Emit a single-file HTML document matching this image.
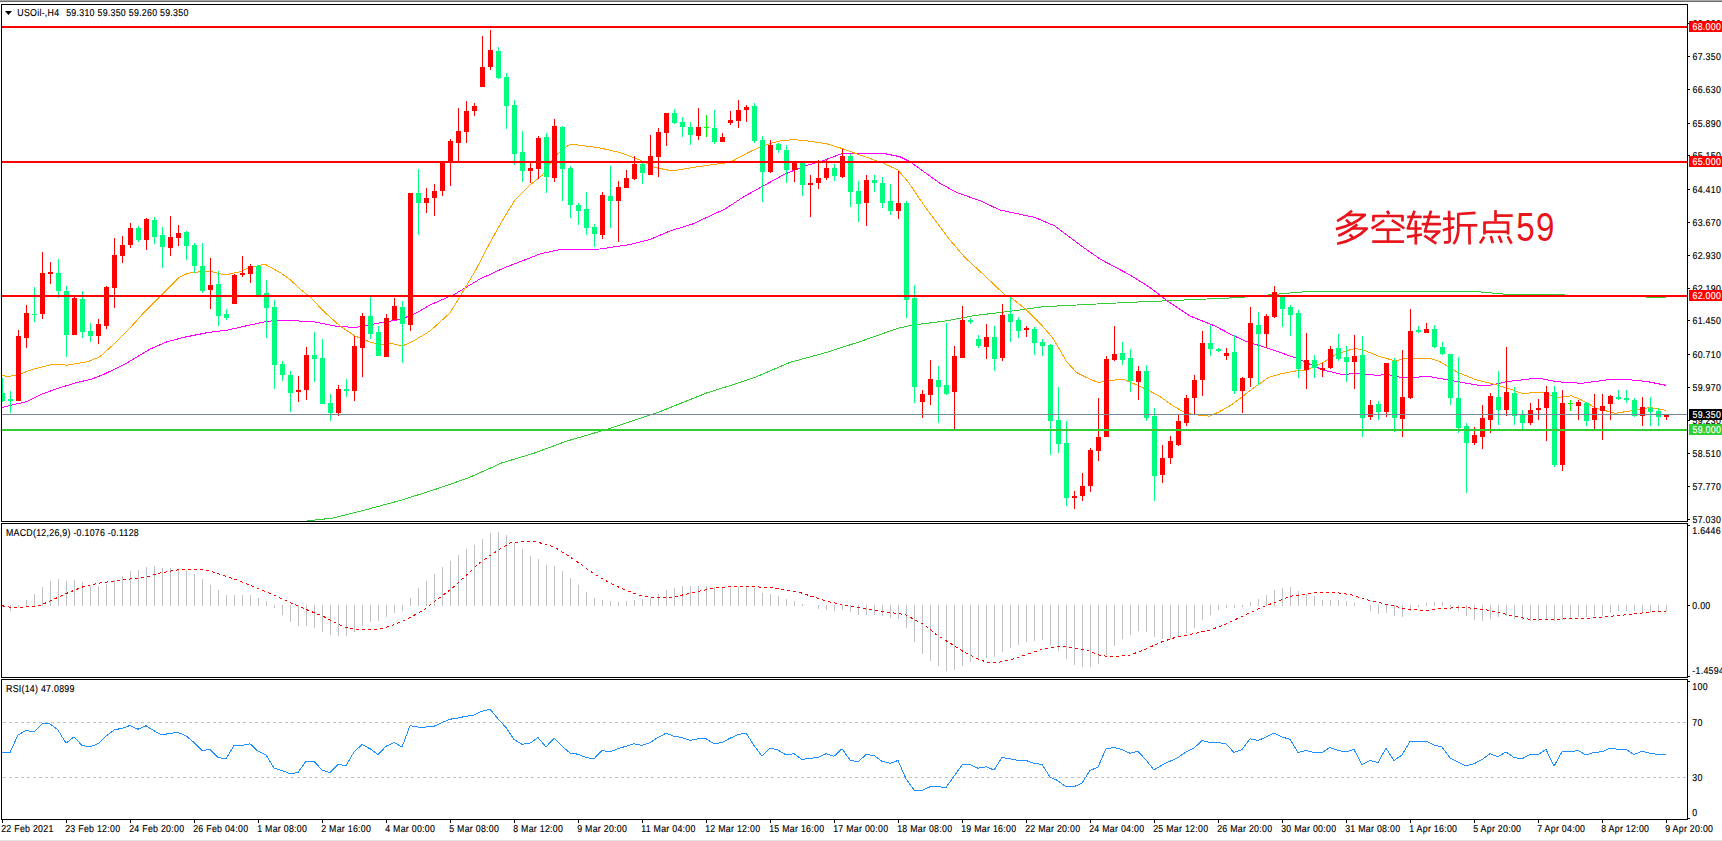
<!DOCTYPE html><html><head><meta charset="utf-8"><style>html,body{margin:0;padding:0;background:#fff;width:1722px;height:841px;overflow:hidden}svg{display:block}text{font-family:"Liberation Sans",sans-serif}</style></head><body>
<svg width="1722" height="841" viewBox="0 0 1722 841">
<rect x="0" y="0" width="1722" height="841" fill="#fff"/>
<rect x="0" y="0" width="1722" height="1" fill="#a9a9a9"/>
<rect x="0" y="1" width="1722" height="1" fill="#696969"/>
<rect x="0" y="840" width="1722" height="1" fill="#e3e3e3"/>
<defs><clipPath id="cm"><rect x="2" y="5" width="1685" height="516"/></clipPath><clipPath id="cd"><rect x="2" y="524" width="1685" height="153"/></clipPath><clipPath id="cr"><rect x="2" y="680" width="1685" height="139"/></clipPath></defs>
<g clip-path="url(#cm)">
<path d="M300.00,522.50 L309.80,520.50 L332.50,518.20 L365.00,510.00 L400.80,500.30 L436.60,489.00 L469.00,477.60 L501.60,463.00 L534.00,453.20 L566.70,441.10 L609.00,428.80 L657.70,412.50 L706.50,393.00 L740.00,382.40 L755.00,377.40 L790.00,362.40 L826.60,352.40 L860.00,341.60 L898.00,328.30 L913.00,325.00 L946.50,320.80 L973.00,315.80 L1020.00,310.00 L1043.00,306.70 L1076.60,305.00 L1126.60,302.50 L1166.60,300.80 L1240.00,297.50 L1290.00,293.00 L1315.00,291.00 L1377.50,291.00 L1470.00,291.00 L1502.50,294.00 L1565.00,295.00 L1615.00,295.50 L1666.00,298.00" fill="none" stroke="#32cd32" stroke-width="1" shape-rendering="crispEdges" />
<path d="M2.00,407.40 L26.60,401.60 L41.60,394.10 L58.30,388.30 L75.00,383.00 L91.60,379.10 L103.20,374.60 L125.00,364.10 L150.00,349.10 L166.50,342.00 L183.00,337.50 L208.00,332.50 L228.00,330.00 L250.00,325.00 L265.00,321.75 L275.00,320.50 L295.00,320.75 L315.00,322.00 L335.00,326.00 L355.00,327.50 L375.00,323.75 L400.00,319.50 L415.00,313.75 L430.00,305.00 L455.00,294.00 L480.00,279.00 L505.00,267.50 L540.00,254.00 L560.00,249.50 L600.00,249.00 L630.00,244.50 L650.00,239.50 L670.00,231.00 L692.50,224.00 L725.00,209.00 L745.00,196.00 L765.00,185.00 L785.00,174.00 L805.00,166.00 L825.00,160.00 L842.50,153.30 L860.00,153.30 L883.00,153.30 L900.00,156.70 L910.00,161.70 L940.00,183.30 L956.50,192.40 L980.00,200.70 L1000.00,210.00 L1035.00,217.50 L1055.00,226.00 L1080.00,245.00 L1100.00,259.00 L1130.00,275.00 L1150.00,287.50 L1167.50,301.00 L1190.00,316.00 L1215.00,326.00 L1230.00,334.00 L1246.60,341.70 L1268.30,348.30 L1296.60,358.30 L1323.00,370.00 L1343.00,374.60 L1356.60,373.30 L1376.60,375.30 L1388.00,374.60 L1401.60,377.50 L1430.00,376.70 L1453.00,380.80 L1476.60,385.00 L1490.00,385.30 L1506.60,381.70 L1538.00,378.00 L1556.60,381.70 L1581.50,383.30 L1606.50,380.00 L1623.00,379.00 L1648.00,381.70 L1666.00,385.30" fill="none" stroke="#ff00ff" stroke-width="1" shape-rendering="crispEdges" />
<path d="M2.00,375.30 L8.30,376.60 L20.00,374.10 L33.30,369.10 L50.00,365.00 L58.30,364.10 L66.60,365.30 L88.20,361.60 L100.00,356.60 L116.50,341.70 L128.20,330.00 L141.70,315.00 L160.00,296.70 L179.00,277.50 L188.00,273.30 L200.00,271.70 L212.00,271.70 L225.00,275.00 L240.00,271.70 L250.00,267.50 L265.00,264.20 L280.00,272.50 L290.00,279.50 L300.00,289.00 L310.00,297.00 L325.00,312.50 L340.00,326.00 L355.00,336.00 L370.00,342.00 L380.00,344.50 L392.50,343.75 L402.50,346.00 L415.00,340.00 L430.00,331.00 L449.80,313.20 L460.00,296.60 L469.80,280.00 L475.00,271.40 L491.40,240.00 L505.00,216.00 L515.00,200.00 L530.00,185.00 L542.50,175.00 L555.00,156.00 L570.00,144.00 L585.00,146.00 L600.00,148.00 L620.00,152.50 L640.00,160.00 L655.00,167.50 L672.50,171.00 L692.50,167.50 L710.00,165.00 L725.00,163.00 L733.00,160.80 L750.00,151.70 L763.00,145.80 L778.00,141.30 L793.00,139.50 L806.50,140.80 L826.50,143.70 L841.50,148.30 L860.00,155.00 L883.00,163.00 L898.00,170.00 L908.00,181.70 L925.00,206.70 L950.00,240.00 L965.00,257.50 L985.00,276.00 L1005.00,295.00 L1010.00,296.70 L1026.60,310.00 L1043.00,326.70 L1053.00,338.30 L1066.60,361.70 L1076.60,372.50 L1086.60,377.50 L1098.00,382.50 L1110.00,380.80 L1116.60,379.70 L1125.00,380.00 L1133.00,383.30 L1148.00,390.00 L1160.00,396.70 L1173.00,405.80 L1184.70,412.50 L1193.00,414.50 L1209.70,416.20 L1219.70,411.50 L1230.00,405.80 L1256.60,385.80 L1268.30,377.50 L1280.00,374.00 L1296.60,370.80 L1306.60,370.00 L1323.00,362.50 L1336.60,354.00 L1355.00,348.30 L1363.30,350.00 L1380.00,356.70 L1395.00,360.80 L1406.60,358.30 L1430.00,358.30 L1440.00,361.70 L1458.00,372.50 L1476.60,380.00 L1496.60,385.00 L1510.00,389.00 L1521.60,393.30 L1543.00,392.50 L1556.60,397.50 L1571.50,395.80 L1581.50,400.00 L1596.50,408.30 L1615.00,413.30 L1631.50,410.80 L1650.00,407.50 L1666.00,410.30" fill="none" stroke="#ffa500" stroke-width="1" shape-rendering="crispEdges" />
<g shape-rendering="crispEdges">
<rect x="2" y="378" width="1" height="24" fill="#00ff7f"/>
<rect x="0" y="393" width="5" height="8" fill="#00ff7f"/>
<rect x="10" y="391" width="1" height="22" fill="#00ff7f"/>
<rect x="8" y="399" width="5" height="2" fill="#00ff7f"/>
<rect x="18" y="330" width="1" height="71" fill="#ff0000"/>
<rect x="16" y="336" width="5" height="65" fill="#ff0000"/>
<rect x="26" y="305" width="1" height="43" fill="#ff0000"/>
<rect x="24" y="313" width="5" height="25" fill="#ff0000"/>
<rect x="34" y="287" width="1" height="35" fill="#00ff7f"/>
<rect x="32" y="314" width="5" height="1" fill="#00ff7f"/>
<rect x="42" y="252" width="1" height="67" fill="#ff0000"/>
<rect x="40" y="273" width="5" height="41" fill="#ff0000"/>
<rect x="50" y="262" width="1" height="22" fill="#ff0000"/>
<rect x="48" y="272" width="5" height="2" fill="#ff0000"/>
<rect x="58" y="259" width="1" height="39" fill="#00ff7f"/>
<rect x="56" y="273" width="5" height="18" fill="#00ff7f"/>
<rect x="66" y="286" width="1" height="71" fill="#00ff7f"/>
<rect x="64" y="291" width="5" height="44" fill="#00ff7f"/>
<rect x="74" y="296" width="1" height="39" fill="#ff0000"/>
<rect x="72" y="298" width="5" height="37" fill="#ff0000"/>
<rect x="82" y="291" width="1" height="47" fill="#00ff7f"/>
<rect x="80" y="299" width="5" height="33" fill="#00ff7f"/>
<rect x="90" y="323" width="1" height="19" fill="#00ff7f"/>
<rect x="88" y="331" width="5" height="5" fill="#00ff7f"/>
<rect x="98" y="319" width="1" height="25" fill="#ff0000"/>
<rect x="96" y="324" width="5" height="12" fill="#ff0000"/>
<rect x="106" y="286" width="1" height="43" fill="#ff0000"/>
<rect x="104" y="287" width="5" height="39" fill="#ff0000"/>
<rect x="114" y="238" width="1" height="70" fill="#ff0000"/>
<rect x="112" y="255" width="5" height="33" fill="#ff0000"/>
<rect x="122" y="236" width="1" height="27" fill="#ff0000"/>
<rect x="120" y="245" width="5" height="11" fill="#ff0000"/>
<rect x="130" y="223" width="1" height="25" fill="#ff0000"/>
<rect x="128" y="228" width="5" height="17" fill="#ff0000"/>
<rect x="138" y="226" width="1" height="16" fill="#00ff7f"/>
<rect x="136" y="228" width="5" height="12" fill="#00ff7f"/>
<rect x="146" y="218" width="1" height="32" fill="#ff0000"/>
<rect x="144" y="219" width="5" height="21" fill="#ff0000"/>
<rect x="154" y="217" width="1" height="27" fill="#00ff7f"/>
<rect x="152" y="220" width="5" height="17" fill="#00ff7f"/>
<rect x="162" y="227" width="1" height="41" fill="#00ff7f"/>
<rect x="160" y="235" width="5" height="12" fill="#00ff7f"/>
<rect x="170" y="216" width="1" height="40" fill="#ff0000"/>
<rect x="168" y="237" width="5" height="11" fill="#ff0000"/>
<rect x="178" y="225" width="1" height="21" fill="#ff0000"/>
<rect x="176" y="233" width="5" height="5" fill="#ff0000"/>
<rect x="186" y="231" width="1" height="29" fill="#00ff7f"/>
<rect x="184" y="232" width="5" height="14" fill="#00ff7f"/>
<rect x="194" y="243" width="1" height="30" fill="#00ff7f"/>
<rect x="192" y="245" width="5" height="21" fill="#00ff7f"/>
<rect x="202" y="243" width="1" height="50" fill="#00ff7f"/>
<rect x="200" y="266" width="5" height="25" fill="#00ff7f"/>
<rect x="210" y="258" width="1" height="51" fill="#ff0000"/>
<rect x="208" y="285" width="5" height="5" fill="#ff0000"/>
<rect x="218" y="271" width="1" height="55" fill="#00ff7f"/>
<rect x="216" y="284" width="5" height="32" fill="#00ff7f"/>
<rect x="226" y="309" width="1" height="11" fill="#00ff7f"/>
<rect x="224" y="314" width="5" height="4" fill="#00ff7f"/>
<rect x="234" y="274" width="1" height="30" fill="#ff0000"/>
<rect x="232" y="275" width="5" height="29" fill="#ff0000"/>
<rect x="242" y="256" width="1" height="21" fill="#ff0000"/>
<rect x="240" y="273" width="5" height="2" fill="#ff0000"/>
<rect x="250" y="264" width="1" height="19" fill="#ff0000"/>
<rect x="248" y="266" width="5" height="8" fill="#ff0000"/>
<rect x="258" y="265" width="1" height="30" fill="#00ff7f"/>
<rect x="256" y="266" width="5" height="29" fill="#00ff7f"/>
<rect x="266" y="280" width="1" height="58" fill="#00ff7f"/>
<rect x="264" y="293" width="5" height="15" fill="#00ff7f"/>
<rect x="274" y="300" width="1" height="89" fill="#00ff7f"/>
<rect x="272" y="307" width="5" height="58" fill="#00ff7f"/>
<rect x="282" y="361" width="1" height="20" fill="#00ff7f"/>
<rect x="280" y="364" width="5" height="11" fill="#00ff7f"/>
<rect x="290" y="371" width="1" height="41" fill="#00ff7f"/>
<rect x="288" y="375" width="5" height="18" fill="#00ff7f"/>
<rect x="298" y="376" width="1" height="26" fill="#ff0000"/>
<rect x="296" y="390" width="5" height="2" fill="#ff0000"/>
<rect x="306" y="347" width="1" height="53" fill="#ff0000"/>
<rect x="304" y="355" width="5" height="35" fill="#ff0000"/>
<rect x="314" y="332" width="1" height="50" fill="#00ff7f"/>
<rect x="312" y="355" width="5" height="4" fill="#00ff7f"/>
<rect x="322" y="339" width="1" height="65" fill="#00ff7f"/>
<rect x="320" y="358" width="5" height="46" fill="#00ff7f"/>
<rect x="330" y="394" width="1" height="27" fill="#00ff7f"/>
<rect x="328" y="403" width="5" height="10" fill="#00ff7f"/>
<rect x="338" y="385" width="1" height="31" fill="#ff0000"/>
<rect x="336" y="389" width="5" height="24" fill="#ff0000"/>
<rect x="346" y="379" width="1" height="18" fill="#00ff7f"/>
<rect x="344" y="389" width="5" height="2" fill="#00ff7f"/>
<rect x="354" y="336" width="1" height="65" fill="#ff0000"/>
<rect x="352" y="346" width="5" height="45" fill="#ff0000"/>
<rect x="362" y="313" width="1" height="64" fill="#ff0000"/>
<rect x="360" y="316" width="5" height="32" fill="#ff0000"/>
<rect x="370" y="296" width="1" height="43" fill="#00ff7f"/>
<rect x="368" y="316" width="5" height="18" fill="#00ff7f"/>
<rect x="378" y="326" width="1" height="30" fill="#00ff7f"/>
<rect x="376" y="332" width="5" height="24" fill="#00ff7f"/>
<rect x="386" y="314" width="1" height="43" fill="#ff0000"/>
<rect x="384" y="318" width="5" height="39" fill="#ff0000"/>
<rect x="394" y="298" width="1" height="22" fill="#ff0000"/>
<rect x="392" y="306" width="5" height="14" fill="#ff0000"/>
<rect x="402" y="301" width="1" height="62" fill="#00ff7f"/>
<rect x="400" y="307" width="5" height="17" fill="#00ff7f"/>
<rect x="410" y="193" width="1" height="138" fill="#ff0000"/>
<rect x="408" y="193" width="5" height="132" fill="#ff0000"/>
<rect x="418" y="169" width="1" height="66" fill="#00ff7f"/>
<rect x="416" y="193" width="5" height="10" fill="#00ff7f"/>
<rect x="426" y="188" width="1" height="25" fill="#ff0000"/>
<rect x="424" y="198" width="5" height="5" fill="#ff0000"/>
<rect x="434" y="184" width="1" height="32" fill="#ff0000"/>
<rect x="432" y="191" width="5" height="7" fill="#ff0000"/>
<rect x="442" y="161" width="1" height="35" fill="#ff0000"/>
<rect x="440" y="163" width="5" height="28" fill="#ff0000"/>
<rect x="450" y="139" width="1" height="47" fill="#ff0000"/>
<rect x="448" y="141" width="5" height="22" fill="#ff0000"/>
<rect x="458" y="108" width="1" height="53" fill="#ff0000"/>
<rect x="456" y="131" width="5" height="12" fill="#ff0000"/>
<rect x="466" y="101" width="1" height="42" fill="#ff0000"/>
<rect x="464" y="111" width="5" height="21" fill="#ff0000"/>
<rect x="474" y="103" width="1" height="13" fill="#ff0000"/>
<rect x="472" y="106" width="5" height="5" fill="#ff0000"/>
<rect x="482" y="36" width="1" height="51" fill="#ff0000"/>
<rect x="480" y="67" width="5" height="20" fill="#ff0000"/>
<rect x="490" y="30" width="1" height="40" fill="#ff0000"/>
<rect x="488" y="50" width="5" height="17" fill="#ff0000"/>
<rect x="498" y="47" width="1" height="32" fill="#00ff7f"/>
<rect x="496" y="51" width="5" height="27" fill="#00ff7f"/>
<rect x="506" y="73" width="1" height="56" fill="#00ff7f"/>
<rect x="504" y="77" width="5" height="29" fill="#00ff7f"/>
<rect x="514" y="100" width="1" height="65" fill="#00ff7f"/>
<rect x="512" y="105" width="5" height="49" fill="#00ff7f"/>
<rect x="522" y="131" width="1" height="51" fill="#00ff7f"/>
<rect x="520" y="152" width="5" height="19" fill="#00ff7f"/>
<rect x="530" y="161" width="1" height="22" fill="#ff0000"/>
<rect x="528" y="168" width="5" height="3" fill="#ff0000"/>
<rect x="538" y="136" width="1" height="43" fill="#ff0000"/>
<rect x="536" y="138" width="5" height="31" fill="#ff0000"/>
<rect x="546" y="133" width="1" height="60" fill="#00ff7f"/>
<rect x="544" y="137" width="5" height="40" fill="#00ff7f"/>
<rect x="554" y="119" width="1" height="63" fill="#ff0000"/>
<rect x="552" y="126" width="5" height="52" fill="#ff0000"/>
<rect x="562" y="126" width="1" height="75" fill="#00ff7f"/>
<rect x="560" y="127" width="5" height="42" fill="#00ff7f"/>
<rect x="570" y="166" width="1" height="52" fill="#00ff7f"/>
<rect x="568" y="168" width="5" height="37" fill="#00ff7f"/>
<rect x="578" y="203" width="1" height="22" fill="#00ff7f"/>
<rect x="576" y="205" width="5" height="6" fill="#00ff7f"/>
<rect x="586" y="192" width="1" height="43" fill="#00ff7f"/>
<rect x="584" y="209" width="5" height="19" fill="#00ff7f"/>
<rect x="594" y="224" width="1" height="23" fill="#00ff7f"/>
<rect x="592" y="227" width="5" height="7" fill="#00ff7f"/>
<rect x="602" y="192" width="1" height="47" fill="#ff0000"/>
<rect x="600" y="195" width="5" height="40" fill="#ff0000"/>
<rect x="610" y="166" width="1" height="62" fill="#00ff7f"/>
<rect x="608" y="196" width="5" height="5" fill="#00ff7f"/>
<rect x="618" y="181" width="1" height="61" fill="#ff0000"/>
<rect x="616" y="187" width="5" height="14" fill="#ff0000"/>
<rect x="626" y="170" width="1" height="18" fill="#ff0000"/>
<rect x="624" y="178" width="5" height="10" fill="#ff0000"/>
<rect x="634" y="156" width="1" height="24" fill="#ff0000"/>
<rect x="632" y="164" width="5" height="15" fill="#ff0000"/>
<rect x="642" y="161" width="1" height="23" fill="#00ff7f"/>
<rect x="640" y="164" width="5" height="9" fill="#00ff7f"/>
<rect x="650" y="135" width="1" height="40" fill="#ff0000"/>
<rect x="648" y="156" width="5" height="19" fill="#ff0000"/>
<rect x="658" y="128" width="1" height="49" fill="#ff0000"/>
<rect x="656" y="132" width="5" height="25" fill="#ff0000"/>
<rect x="666" y="113" width="1" height="33" fill="#ff0000"/>
<rect x="664" y="113" width="5" height="20" fill="#ff0000"/>
<rect x="674" y="109" width="1" height="15" fill="#00ff7f"/>
<rect x="672" y="113" width="5" height="10" fill="#00ff7f"/>
<rect x="682" y="117" width="1" height="20" fill="#00ff7f"/>
<rect x="680" y="122" width="5" height="5" fill="#00ff7f"/>
<rect x="690" y="122" width="1" height="23" fill="#00ff7f"/>
<rect x="688" y="127" width="5" height="8" fill="#00ff7f"/>
<rect x="698" y="108" width="1" height="32" fill="#ff0000"/>
<rect x="696" y="127" width="5" height="9" fill="#ff0000"/>
<rect x="706" y="115" width="1" height="22" fill="#00ff00"/>
<rect x="704" y="127" width="5" height="1" fill="#00ff00"/>
<rect x="714" y="110" width="1" height="34" fill="#00ff7f"/>
<rect x="712" y="128" width="5" height="14" fill="#00ff7f"/>
<rect x="722" y="133" width="1" height="9" fill="#ff0000"/>
<rect x="720" y="137" width="5" height="5" fill="#ff0000"/>
<rect x="730" y="111" width="1" height="14" fill="#ff0000"/>
<rect x="728" y="120" width="5" height="3" fill="#ff0000"/>
<rect x="738" y="100" width="1" height="28" fill="#ff0000"/>
<rect x="736" y="110" width="5" height="11" fill="#ff0000"/>
<rect x="746" y="105" width="1" height="17" fill="#ff0000"/>
<rect x="744" y="107" width="5" height="3" fill="#ff0000"/>
<rect x="754" y="103" width="1" height="40" fill="#00ff7f"/>
<rect x="752" y="106" width="5" height="35" fill="#00ff7f"/>
<rect x="762" y="136" width="1" height="66" fill="#00ff7f"/>
<rect x="760" y="140" width="5" height="32" fill="#00ff7f"/>
<rect x="770" y="140" width="1" height="33" fill="#ff0000"/>
<rect x="768" y="145" width="5" height="27" fill="#ff0000"/>
<rect x="778" y="143" width="1" height="10" fill="#00ff7f"/>
<rect x="776" y="144" width="5" height="6" fill="#00ff7f"/>
<rect x="786" y="145" width="1" height="38" fill="#00ff7f"/>
<rect x="784" y="150" width="5" height="20" fill="#00ff7f"/>
<rect x="794" y="161" width="1" height="21" fill="#ff0000"/>
<rect x="792" y="161" width="5" height="9" fill="#ff0000"/>
<rect x="802" y="161" width="1" height="35" fill="#00ff7f"/>
<rect x="800" y="163" width="5" height="22" fill="#00ff7f"/>
<rect x="810" y="175" width="1" height="42" fill="#ff0000"/>
<rect x="808" y="183" width="5" height="2" fill="#ff0000"/>
<rect x="818" y="160" width="1" height="29" fill="#ff0000"/>
<rect x="816" y="178" width="5" height="5" fill="#ff0000"/>
<rect x="826" y="160" width="1" height="20" fill="#ff0000"/>
<rect x="824" y="168" width="5" height="10" fill="#ff0000"/>
<rect x="834" y="164" width="1" height="17" fill="#00ff7f"/>
<rect x="832" y="168" width="5" height="8" fill="#00ff7f"/>
<rect x="842" y="149" width="1" height="29" fill="#ff0000"/>
<rect x="840" y="156" width="5" height="21" fill="#ff0000"/>
<rect x="850" y="154" width="1" height="53" fill="#00ff7f"/>
<rect x="848" y="156" width="5" height="36" fill="#00ff7f"/>
<rect x="858" y="181" width="1" height="41" fill="#00ff7f"/>
<rect x="856" y="191" width="5" height="13" fill="#00ff7f"/>
<rect x="866" y="175" width="1" height="51" fill="#ff0000"/>
<rect x="864" y="180" width="5" height="23" fill="#ff0000"/>
<rect x="874" y="175" width="1" height="17" fill="#00ff7f"/>
<rect x="872" y="180" width="5" height="3" fill="#00ff7f"/>
<rect x="882" y="177" width="1" height="31" fill="#00ff7f"/>
<rect x="880" y="183" width="5" height="20" fill="#00ff7f"/>
<rect x="890" y="184" width="1" height="31" fill="#00ff7f"/>
<rect x="888" y="201" width="5" height="10" fill="#00ff7f"/>
<rect x="898" y="171" width="1" height="48" fill="#ff0000"/>
<rect x="896" y="203" width="5" height="8" fill="#ff0000"/>
<rect x="906" y="201" width="1" height="117" fill="#00ff7f"/>
<rect x="904" y="203" width="5" height="97" fill="#00ff7f"/>
<rect x="914" y="285" width="1" height="118" fill="#00ff7f"/>
<rect x="912" y="298" width="5" height="89" fill="#00ff7f"/>
<rect x="922" y="390" width="1" height="28" fill="#ff0000"/>
<rect x="920" y="394" width="5" height="8" fill="#ff0000"/>
<rect x="930" y="360" width="1" height="45" fill="#ff0000"/>
<rect x="928" y="379" width="5" height="16" fill="#ff0000"/>
<rect x="938" y="366" width="1" height="57" fill="#00ff7f"/>
<rect x="936" y="380" width="5" height="7" fill="#00ff7f"/>
<rect x="946" y="323" width="1" height="72" fill="#00ff7f"/>
<rect x="944" y="385" width="5" height="9" fill="#00ff7f"/>
<rect x="954" y="346" width="1" height="84" fill="#ff0000"/>
<rect x="952" y="356" width="5" height="36" fill="#ff0000"/>
<rect x="962" y="306" width="1" height="52" fill="#ff0000"/>
<rect x="960" y="320" width="5" height="38" fill="#ff0000"/>
<rect x="970" y="318" width="1" height="6" fill="#00ff7f"/>
<rect x="968" y="320" width="5" height="2" fill="#00ff7f"/>
<rect x="978" y="335" width="1" height="13" fill="#00ff7f"/>
<rect x="976" y="339" width="5" height="7" fill="#00ff7f"/>
<rect x="986" y="324" width="1" height="35" fill="#ff0000"/>
<rect x="984" y="337" width="5" height="10" fill="#ff0000"/>
<rect x="994" y="326" width="1" height="45" fill="#00ff7f"/>
<rect x="992" y="337" width="5" height="22" fill="#00ff7f"/>
<rect x="1002" y="304" width="1" height="57" fill="#ff0000"/>
<rect x="1000" y="315" width="5" height="43" fill="#ff0000"/>
<rect x="1010" y="296" width="1" height="46" fill="#00ff7f"/>
<rect x="1008" y="314" width="5" height="8" fill="#00ff7f"/>
<rect x="1018" y="317" width="1" height="21" fill="#00ff7f"/>
<rect x="1016" y="320" width="5" height="11" fill="#00ff7f"/>
<rect x="1026" y="326" width="1" height="11" fill="#ff0000"/>
<rect x="1024" y="328" width="5" height="2" fill="#ff0000"/>
<rect x="1034" y="327" width="1" height="28" fill="#00ff7f"/>
<rect x="1032" y="329" width="5" height="14" fill="#00ff7f"/>
<rect x="1042" y="339" width="1" height="17" fill="#00ff7f"/>
<rect x="1040" y="342" width="5" height="4" fill="#00ff7f"/>
<rect x="1050" y="344" width="1" height="111" fill="#00ff7f"/>
<rect x="1048" y="345" width="5" height="76" fill="#00ff7f"/>
<rect x="1058" y="387" width="1" height="66" fill="#00ff7f"/>
<rect x="1056" y="420" width="5" height="24" fill="#00ff7f"/>
<rect x="1066" y="421" width="1" height="85" fill="#00ff7f"/>
<rect x="1064" y="443" width="5" height="55" fill="#00ff7f"/>
<rect x="1074" y="491" width="1" height="18" fill="#ff0000"/>
<rect x="1072" y="496" width="5" height="2" fill="#ff0000"/>
<rect x="1082" y="473" width="1" height="28" fill="#ff0000"/>
<rect x="1080" y="486" width="5" height="10" fill="#ff0000"/>
<rect x="1090" y="448" width="1" height="44" fill="#ff0000"/>
<rect x="1088" y="450" width="5" height="36" fill="#ff0000"/>
<rect x="1098" y="398" width="1" height="63" fill="#ff0000"/>
<rect x="1096" y="437" width="5" height="14" fill="#ff0000"/>
<rect x="1106" y="356" width="1" height="81" fill="#ff0000"/>
<rect x="1104" y="359" width="5" height="78" fill="#ff0000"/>
<rect x="1114" y="326" width="1" height="35" fill="#ff0000"/>
<rect x="1112" y="354" width="5" height="6" fill="#ff0000"/>
<rect x="1122" y="342" width="1" height="23" fill="#00ff7f"/>
<rect x="1120" y="353" width="5" height="7" fill="#00ff7f"/>
<rect x="1130" y="349" width="1" height="43" fill="#00ff7f"/>
<rect x="1128" y="358" width="5" height="23" fill="#00ff7f"/>
<rect x="1138" y="366" width="1" height="34" fill="#ff0000"/>
<rect x="1136" y="371" width="5" height="11" fill="#ff0000"/>
<rect x="1146" y="365" width="1" height="56" fill="#00ff7f"/>
<rect x="1144" y="371" width="5" height="47" fill="#00ff7f"/>
<rect x="1154" y="408" width="1" height="93" fill="#00ff7f"/>
<rect x="1152" y="416" width="5" height="60" fill="#00ff7f"/>
<rect x="1162" y="445" width="1" height="38" fill="#ff0000"/>
<rect x="1160" y="458" width="5" height="17" fill="#ff0000"/>
<rect x="1170" y="436" width="1" height="28" fill="#ff0000"/>
<rect x="1168" y="441" width="5" height="17" fill="#ff0000"/>
<rect x="1178" y="414" width="1" height="32" fill="#ff0000"/>
<rect x="1176" y="421" width="5" height="24" fill="#ff0000"/>
<rect x="1186" y="395" width="1" height="31" fill="#ff0000"/>
<rect x="1184" y="398" width="5" height="25" fill="#ff0000"/>
<rect x="1194" y="375" width="1" height="40" fill="#ff0000"/>
<rect x="1192" y="380" width="5" height="18" fill="#ff0000"/>
<rect x="1202" y="331" width="1" height="65" fill="#ff0000"/>
<rect x="1200" y="343" width="5" height="37" fill="#ff0000"/>
<rect x="1210" y="325" width="1" height="31" fill="#00ff7f"/>
<rect x="1208" y="343" width="5" height="6" fill="#00ff7f"/>
<rect x="1218" y="348" width="1" height="4" fill="#00ff7f"/>
<rect x="1216" y="349" width="5" height="2" fill="#00ff7f"/>
<rect x="1226" y="348" width="1" height="12" fill="#ff0000"/>
<rect x="1224" y="353" width="5" height="3" fill="#ff0000"/>
<rect x="1234" y="335" width="1" height="59" fill="#00ff7f"/>
<rect x="1232" y="352" width="5" height="39" fill="#00ff7f"/>
<rect x="1242" y="377" width="1" height="36" fill="#ff0000"/>
<rect x="1240" y="378" width="5" height="13" fill="#ff0000"/>
<rect x="1250" y="307" width="1" height="80" fill="#ff0000"/>
<rect x="1248" y="323" width="5" height="55" fill="#ff0000"/>
<rect x="1258" y="312" width="1" height="73" fill="#00ff7f"/>
<rect x="1256" y="325" width="5" height="9" fill="#00ff7f"/>
<rect x="1266" y="314" width="1" height="34" fill="#ff0000"/>
<rect x="1264" y="316" width="5" height="18" fill="#ff0000"/>
<rect x="1274" y="286" width="1" height="32" fill="#ff0000"/>
<rect x="1272" y="292" width="5" height="25" fill="#ff0000"/>
<rect x="1282" y="295" width="1" height="32" fill="#00ff7f"/>
<rect x="1280" y="296" width="5" height="13" fill="#00ff7f"/>
<rect x="1290" y="305" width="1" height="31" fill="#00ff7f"/>
<rect x="1288" y="307" width="5" height="8" fill="#00ff7f"/>
<rect x="1298" y="310" width="1" height="68" fill="#00ff7f"/>
<rect x="1296" y="313" width="5" height="56" fill="#00ff7f"/>
<rect x="1306" y="333" width="1" height="56" fill="#ff0000"/>
<rect x="1304" y="360" width="5" height="10" fill="#ff0000"/>
<rect x="1314" y="355" width="1" height="23" fill="#00ff7f"/>
<rect x="1312" y="360" width="5" height="8" fill="#00ff7f"/>
<rect x="1322" y="363" width="1" height="14" fill="#ff0000"/>
<rect x="1320" y="368" width="5" height="2" fill="#ff0000"/>
<rect x="1330" y="346" width="1" height="23" fill="#ff0000"/>
<rect x="1328" y="349" width="5" height="19" fill="#ff0000"/>
<rect x="1338" y="334" width="1" height="27" fill="#00ff7f"/>
<rect x="1336" y="348" width="5" height="11" fill="#00ff7f"/>
<rect x="1346" y="346" width="1" height="36" fill="#00ff7f"/>
<rect x="1344" y="357" width="5" height="5" fill="#00ff7f"/>
<rect x="1354" y="335" width="1" height="54" fill="#ff0000"/>
<rect x="1352" y="356" width="5" height="6" fill="#ff0000"/>
<rect x="1362" y="336" width="1" height="101" fill="#00ff7f"/>
<rect x="1360" y="355" width="5" height="63" fill="#00ff7f"/>
<rect x="1370" y="400" width="1" height="20" fill="#ff0000"/>
<rect x="1368" y="405" width="5" height="12" fill="#ff0000"/>
<rect x="1378" y="401" width="1" height="19" fill="#00ff7f"/>
<rect x="1376" y="404" width="5" height="8" fill="#00ff7f"/>
<rect x="1386" y="363" width="1" height="54" fill="#ff0000"/>
<rect x="1384" y="363" width="5" height="49" fill="#ff0000"/>
<rect x="1394" y="358" width="1" height="74" fill="#00ff7f"/>
<rect x="1392" y="361" width="5" height="57" fill="#00ff7f"/>
<rect x="1402" y="350" width="1" height="87" fill="#ff0000"/>
<rect x="1400" y="397" width="5" height="22" fill="#ff0000"/>
<rect x="1410" y="309" width="1" height="90" fill="#ff0000"/>
<rect x="1408" y="331" width="5" height="67" fill="#ff0000"/>
<rect x="1418" y="326" width="1" height="7" fill="#00ff7f"/>
<rect x="1416" y="330" width="5" height="2" fill="#00ff7f"/>
<rect x="1426" y="323" width="1" height="10" fill="#ff0000"/>
<rect x="1424" y="329" width="5" height="4" fill="#ff0000"/>
<rect x="1434" y="325" width="1" height="23" fill="#00ff7f"/>
<rect x="1432" y="329" width="5" height="18" fill="#00ff7f"/>
<rect x="1442" y="342" width="1" height="13" fill="#00ff7f"/>
<rect x="1440" y="347" width="5" height="7" fill="#00ff7f"/>
<rect x="1450" y="354" width="1" height="51" fill="#00ff7f"/>
<rect x="1448" y="354" width="5" height="44" fill="#00ff7f"/>
<rect x="1458" y="357" width="1" height="76" fill="#00ff7f"/>
<rect x="1456" y="398" width="5" height="30" fill="#00ff7f"/>
<rect x="1466" y="423" width="1" height="70" fill="#00ff7f"/>
<rect x="1464" y="426" width="5" height="17" fill="#00ff7f"/>
<rect x="1474" y="427" width="1" height="18" fill="#ff0000"/>
<rect x="1472" y="435" width="5" height="8" fill="#ff0000"/>
<rect x="1482" y="405" width="1" height="44" fill="#ff0000"/>
<rect x="1480" y="418" width="5" height="19" fill="#ff0000"/>
<rect x="1490" y="393" width="1" height="40" fill="#ff0000"/>
<rect x="1488" y="396" width="5" height="24" fill="#ff0000"/>
<rect x="1498" y="371" width="1" height="54" fill="#00ff7f"/>
<rect x="1496" y="397" width="5" height="13" fill="#00ff7f"/>
<rect x="1506" y="347" width="1" height="69" fill="#ff0000"/>
<rect x="1504" y="392" width="5" height="18" fill="#ff0000"/>
<rect x="1514" y="387" width="1" height="38" fill="#00ff7f"/>
<rect x="1512" y="393" width="5" height="23" fill="#00ff7f"/>
<rect x="1522" y="410" width="1" height="19" fill="#00ff7f"/>
<rect x="1520" y="415" width="5" height="8" fill="#00ff7f"/>
<rect x="1530" y="403" width="1" height="22" fill="#ff0000"/>
<rect x="1528" y="410" width="5" height="13" fill="#ff0000"/>
<rect x="1538" y="399" width="1" height="21" fill="#ff0000"/>
<rect x="1536" y="408" width="5" height="2" fill="#ff0000"/>
<rect x="1546" y="386" width="1" height="55" fill="#ff0000"/>
<rect x="1544" y="392" width="5" height="16" fill="#ff0000"/>
<rect x="1554" y="386" width="1" height="81" fill="#00ff7f"/>
<rect x="1552" y="392" width="5" height="73" fill="#00ff7f"/>
<rect x="1562" y="390" width="1" height="81" fill="#ff0000"/>
<rect x="1560" y="403" width="5" height="62" fill="#ff0000"/>
<rect x="1570" y="400" width="1" height="11" fill="#00ff00"/>
<rect x="1568" y="403" width="5" height="1" fill="#00ff00"/>
<rect x="1578" y="400" width="1" height="20" fill="#ff0000"/>
<rect x="1576" y="402" width="5" height="4" fill="#ff0000"/>
<rect x="1586" y="402" width="1" height="24" fill="#00ff7f"/>
<rect x="1584" y="403" width="5" height="18" fill="#00ff7f"/>
<rect x="1594" y="394" width="1" height="35" fill="#ff0000"/>
<rect x="1592" y="408" width="5" height="12" fill="#ff0000"/>
<rect x="1602" y="394" width="1" height="46" fill="#ff0000"/>
<rect x="1600" y="406" width="5" height="5" fill="#ff0000"/>
<rect x="1610" y="395" width="1" height="25" fill="#ff0000"/>
<rect x="1608" y="396" width="5" height="8" fill="#ff0000"/>
<rect x="1618" y="390" width="1" height="10" fill="#00ff7f"/>
<rect x="1616" y="397" width="5" height="2" fill="#00ff7f"/>
<rect x="1626" y="390" width="1" height="13" fill="#00ff7f"/>
<rect x="1624" y="398" width="5" height="2" fill="#00ff7f"/>
<rect x="1634" y="398" width="1" height="19" fill="#00ff7f"/>
<rect x="1632" y="400" width="5" height="16" fill="#00ff7f"/>
<rect x="1642" y="397" width="1" height="29" fill="#ff0000"/>
<rect x="1640" y="407" width="5" height="9" fill="#ff0000"/>
<rect x="1650" y="397" width="1" height="29" fill="#00ff7f"/>
<rect x="1648" y="408" width="5" height="4" fill="#00ff7f"/>
<rect x="1658" y="408" width="1" height="18" fill="#00ff7f"/>
<rect x="1656" y="411" width="5" height="6" fill="#00ff7f"/>
<rect x="1666" y="415" width="1" height="5" fill="#ff0000"/>
<rect x="1664" y="415" width="5" height="2" fill="#ff0000"/>
</g>
<rect x="2" y="414" width="1685" height="1" fill="#778899" shape-rendering="crispEdges"/>
<rect x="2" y="26" width="1685" height="2" fill="#ff0000" shape-rendering="crispEdges"/>
<rect x="2" y="161" width="1685" height="2" fill="#ff0000" shape-rendering="crispEdges"/>
<rect x="2" y="295" width="1685" height="2" fill="#ff0000" shape-rendering="crispEdges"/>
<rect x="2" y="429" width="1685" height="2" fill="#32cd32" shape-rendering="crispEdges"/>
</g>
<g shape-rendering="crispEdges" fill="#000">
<rect x="1" y="4" width="1687" height="1"/>
<rect x="1" y="521" width="1687" height="1"/>
<rect x="1" y="4" width="1" height="518"/>
<rect x="1687" y="4" width="1" height="518"/>
<rect x="1" y="523" width="1687" height="1"/>
<rect x="1" y="677" width="1687" height="1"/>
<rect x="1" y="523" width="1" height="155"/>
<rect x="1687" y="523" width="1" height="155"/>
<rect x="1" y="679" width="1687" height="1"/>
<rect x="1" y="819" width="1687" height="1"/>
<rect x="1" y="679" width="1" height="141"/>
<rect x="1687" y="679" width="1" height="141"/>
</g>
<g clip-path="url(#cd)">
<g shape-rendering="crispEdges" fill="#c0c0c0">
<rect x="2" y="605" width="1" height="2"/>
<rect x="10" y="605" width="1" height="6"/>
<rect x="18" y="605" width="1" height="2"/>
<rect x="26" y="600" width="1" height="6"/>
<rect x="34" y="594" width="1" height="12"/>
<rect x="42" y="587" width="1" height="19"/>
<rect x="50" y="581" width="1" height="25"/>
<rect x="58" y="579" width="1" height="27"/>
<rect x="66" y="581" width="1" height="25"/>
<rect x="74" y="580" width="1" height="26"/>
<rect x="82" y="582" width="1" height="24"/>
<rect x="90" y="586" width="1" height="20"/>
<rect x="98" y="586" width="1" height="20"/>
<rect x="106" y="584" width="1" height="22"/>
<rect x="114" y="580" width="1" height="26"/>
<rect x="122" y="576" width="1" height="30"/>
<rect x="130" y="571" width="1" height="35"/>
<rect x="138" y="570" width="1" height="36"/>
<rect x="146" y="567" width="1" height="39"/>
<rect x="154" y="566" width="1" height="40"/>
<rect x="162" y="568" width="1" height="38"/>
<rect x="170" y="568" width="1" height="38"/>
<rect x="178" y="570" width="1" height="36"/>
<rect x="186" y="570" width="1" height="36"/>
<rect x="194" y="574" width="1" height="32"/>
<rect x="202" y="579" width="1" height="27"/>
<rect x="210" y="585" width="1" height="21"/>
<rect x="218" y="590" width="1" height="16"/>
<rect x="226" y="595" width="1" height="11"/>
<rect x="234" y="595" width="1" height="11"/>
<rect x="242" y="595" width="1" height="11"/>
<rect x="250" y="595" width="1" height="11"/>
<rect x="258" y="598" width="1" height="8"/>
<rect x="266" y="601" width="1" height="5"/>
<rect x="274" y="605" width="1" height="3"/>
<rect x="282" y="605" width="1" height="10"/>
<rect x="290" y="605" width="1" height="17"/>
<rect x="298" y="605" width="1" height="21"/>
<rect x="306" y="605" width="1" height="21"/>
<rect x="314" y="605" width="1" height="23"/>
<rect x="322" y="605" width="1" height="27"/>
<rect x="330" y="605" width="1" height="30"/>
<rect x="338" y="605" width="1" height="31"/>
<rect x="346" y="605" width="1" height="31"/>
<rect x="354" y="605" width="1" height="27"/>
<rect x="362" y="605" width="1" height="21"/>
<rect x="370" y="605" width="1" height="17"/>
<rect x="378" y="605" width="1" height="16"/>
<rect x="386" y="605" width="1" height="12"/>
<rect x="394" y="605" width="1" height="8"/>
<rect x="402" y="605" width="1" height="6"/>
<rect x="410" y="598" width="1" height="8"/>
<rect x="418" y="588" width="1" height="18"/>
<rect x="426" y="581" width="1" height="25"/>
<rect x="434" y="574" width="1" height="32"/>
<rect x="442" y="567" width="1" height="39"/>
<rect x="450" y="561" width="1" height="45"/>
<rect x="458" y="555" width="1" height="51"/>
<rect x="466" y="549" width="1" height="57"/>
<rect x="474" y="545" width="1" height="61"/>
<rect x="482" y="539" width="1" height="67"/>
<rect x="490" y="533" width="1" height="73"/>
<rect x="498" y="532" width="1" height="74"/>
<rect x="506" y="535" width="1" height="71"/>
<rect x="514" y="543" width="1" height="63"/>
<rect x="522" y="549" width="1" height="57"/>
<rect x="530" y="556" width="1" height="50"/>
<rect x="538" y="559" width="1" height="47"/>
<rect x="546" y="565" width="1" height="41"/>
<rect x="554" y="566" width="1" height="40"/>
<rect x="562" y="571" width="1" height="35"/>
<rect x="570" y="578" width="1" height="28"/>
<rect x="578" y="585" width="1" height="21"/>
<rect x="586" y="592" width="1" height="14"/>
<rect x="594" y="598" width="1" height="8"/>
<rect x="602" y="600" width="1" height="6"/>
<rect x="610" y="601" width="1" height="5"/>
<rect x="618" y="602" width="1" height="4"/>
<rect x="626" y="601" width="1" height="5"/>
<rect x="634" y="600" width="1" height="6"/>
<rect x="642" y="599" width="1" height="7"/>
<rect x="650" y="598" width="1" height="8"/>
<rect x="658" y="594" width="1" height="12"/>
<rect x="666" y="590" width="1" height="16"/>
<rect x="674" y="588" width="1" height="18"/>
<rect x="682" y="586" width="1" height="20"/>
<rect x="690" y="586" width="1" height="20"/>
<rect x="698" y="586" width="1" height="20"/>
<rect x="706" y="586" width="1" height="20"/>
<rect x="714" y="587" width="1" height="19"/>
<rect x="722" y="588" width="1" height="18"/>
<rect x="730" y="588" width="1" height="18"/>
<rect x="738" y="587" width="1" height="19"/>
<rect x="746" y="587" width="1" height="19"/>
<rect x="754" y="588" width="1" height="18"/>
<rect x="762" y="593" width="1" height="13"/>
<rect x="770" y="594" width="1" height="12"/>
<rect x="778" y="596" width="1" height="10"/>
<rect x="786" y="599" width="1" height="7"/>
<rect x="794" y="601" width="1" height="5"/>
<rect x="802" y="604" width="1" height="2"/>
<rect x="818" y="605" width="1" height="4"/>
<rect x="826" y="605" width="1" height="5"/>
<rect x="834" y="605" width="1" height="6"/>
<rect x="842" y="605" width="1" height="5"/>
<rect x="850" y="605" width="1" height="7"/>
<rect x="858" y="605" width="1" height="10"/>
<rect x="866" y="605" width="1" height="10"/>
<rect x="874" y="605" width="1" height="10"/>
<rect x="882" y="605" width="1" height="11"/>
<rect x="890" y="605" width="1" height="13"/>
<rect x="898" y="605" width="1" height="14"/>
<rect x="906" y="605" width="1" height="23"/>
<rect x="914" y="605" width="1" height="37"/>
<rect x="922" y="605" width="1" height="49"/>
<rect x="930" y="605" width="1" height="56"/>
<rect x="938" y="605" width="1" height="61"/>
<rect x="946" y="605" width="1" height="66"/>
<rect x="954" y="605" width="1" height="65"/>
<rect x="962" y="605" width="1" height="61"/>
<rect x="970" y="605" width="1" height="57"/>
<rect x="978" y="605" width="1" height="55"/>
<rect x="986" y="605" width="1" height="53"/>
<rect x="994" y="605" width="1" height="52"/>
<rect x="1002" y="605" width="1" height="47"/>
<rect x="1010" y="605" width="1" height="43"/>
<rect x="1018" y="605" width="1" height="40"/>
<rect x="1026" y="605" width="1" height="37"/>
<rect x="1034" y="605" width="1" height="36"/>
<rect x="1042" y="605" width="1" height="35"/>
<rect x="1050" y="605" width="1" height="40"/>
<rect x="1058" y="605" width="1" height="46"/>
<rect x="1066" y="605" width="1" height="54"/>
<rect x="1074" y="605" width="1" height="60"/>
<rect x="1082" y="605" width="1" height="62"/>
<rect x="1090" y="605" width="1" height="62"/>
<rect x="1098" y="605" width="1" height="59"/>
<rect x="1106" y="605" width="1" height="50"/>
<rect x="1114" y="605" width="1" height="41"/>
<rect x="1122" y="605" width="1" height="34"/>
<rect x="1130" y="605" width="1" height="30"/>
<rect x="1138" y="605" width="1" height="26"/>
<rect x="1146" y="605" width="1" height="27"/>
<rect x="1154" y="605" width="1" height="32"/>
<rect x="1162" y="605" width="1" height="34"/>
<rect x="1170" y="605" width="1" height="34"/>
<rect x="1178" y="605" width="1" height="32"/>
<rect x="1186" y="605" width="1" height="28"/>
<rect x="1194" y="605" width="1" height="23"/>
<rect x="1202" y="605" width="1" height="15"/>
<rect x="1210" y="605" width="1" height="10"/>
<rect x="1218" y="605" width="1" height="5"/>
<rect x="1226" y="605" width="1" height="3"/>
<rect x="1234" y="605" width="1" height="3"/>
<rect x="1242" y="605" width="1" height="2"/>
<rect x="1250" y="602" width="1" height="4"/>
<rect x="1258" y="599" width="1" height="7"/>
<rect x="1266" y="595" width="1" height="11"/>
<rect x="1274" y="590" width="1" height="16"/>
<rect x="1282" y="588" width="1" height="18"/>
<rect x="1290" y="587" width="1" height="19"/>
<rect x="1298" y="591" width="1" height="15"/>
<rect x="1306" y="594" width="1" height="12"/>
<rect x="1314" y="596" width="1" height="10"/>
<rect x="1322" y="600" width="1" height="6"/>
<rect x="1330" y="600" width="1" height="6"/>
<rect x="1338" y="600" width="1" height="6"/>
<rect x="1346" y="601" width="1" height="5"/>
<rect x="1354" y="603" width="1" height="3"/>
<rect x="1370" y="605" width="1" height="6"/>
<rect x="1378" y="605" width="1" height="9"/>
<rect x="1386" y="605" width="1" height="8"/>
<rect x="1394" y="605" width="1" height="11"/>
<rect x="1402" y="605" width="1" height="12"/>
<rect x="1410" y="605" width="1" height="6"/>
<rect x="1418" y="605" width="1" height="2"/>
<rect x="1426" y="603" width="1" height="3"/>
<rect x="1434" y="602" width="1" height="4"/>
<rect x="1442" y="602" width="1" height="4"/>
<rect x="1450" y="605" width="1" height="2"/>
<rect x="1458" y="605" width="1" height="6"/>
<rect x="1466" y="605" width="1" height="11"/>
<rect x="1474" y="605" width="1" height="15"/>
<rect x="1482" y="605" width="1" height="16"/>
<rect x="1490" y="605" width="1" height="14"/>
<rect x="1498" y="605" width="1" height="12"/>
<rect x="1506" y="605" width="1" height="11"/>
<rect x="1514" y="605" width="1" height="14"/>
<rect x="1522" y="605" width="1" height="15"/>
<rect x="1530" y="605" width="1" height="16"/>
<rect x="1538" y="605" width="1" height="16"/>
<rect x="1546" y="605" width="1" height="15"/>
<rect x="1554" y="605" width="1" height="16"/>
<rect x="1562" y="605" width="1" height="15"/>
<rect x="1570" y="605" width="1" height="14"/>
<rect x="1578" y="605" width="1" height="12"/>
<rect x="1586" y="605" width="1" height="12"/>
<rect x="1594" y="605" width="1" height="11"/>
<rect x="1602" y="605" width="1" height="11"/>
<rect x="1610" y="605" width="1" height="8"/>
<rect x="1618" y="605" width="1" height="6"/>
<rect x="1626" y="605" width="1" height="6"/>
<rect x="1634" y="605" width="1" height="6"/>
<rect x="1642" y="605" width="1" height="7"/>
<rect x="1650" y="605" width="1" height="7"/>
<rect x="1658" y="605" width="1" height="7"/>
<rect x="1666" y="605" width="1" height="6"/>
</g>
<path d="M2.00,605.75 L15.00,608.00 L25.00,607.00 L40.00,605.50 L50.00,601.00 L65.00,594.00 L85.00,586.00 L100.00,583.00 L115.00,581.00 L130.00,579.00 L145.00,577.50 L160.00,573.00 L180.00,569.50 L195.00,569.00 L210.00,571.00 L225.00,576.00 L240.00,581.00 L260.00,589.50 L275.00,595.50 L290.00,602.50 L305.00,609.00 L322.50,616.00 L337.50,624.00 L347.50,628.00 L362.50,630.00 L380.00,629.00 L395.00,624.50 L410.00,617.50 L425.00,609.00 L430.00,605.00 L440.00,597.50 L450.00,590.00 L460.00,581.00 L470.00,572.00 L480.00,562.50 L490.00,555.50 L500.00,549.00 L510.00,543.00 L520.00,541.75 L535.00,541.75 L545.00,544.00 L555.00,547.50 L565.00,553.75 L580.00,563.75 L595.00,574.50 L610.00,583.00 L625.00,590.00 L640.00,595.50 L655.00,598.00 L670.00,597.50 L685.00,594.50 L700.00,591.00 L715.00,588.00 L730.00,586.75 L755.00,586.75 L775.00,588.00 L790.00,590.75 L800.00,592.50 L815.00,597.50 L830.00,602.00 L845.00,605.00 L860.00,608.00 L875.00,610.00 L890.00,612.50 L905.00,614.50 L915.00,620.00 L925.00,625.00 L935.00,633.75 L945.00,640.00 L955.00,646.25 L965.00,652.50 L977.50,658.75 L987.50,662.50 L1000.00,662.00 L1010.00,660.00 L1025.00,655.00 L1040.00,650.00 L1055.00,646.75 L1067.50,646.75 L1080.00,648.75 L1090.00,651.25 L1100.00,655.50 L1115.00,657.00 L1130.00,655.00 L1145.00,649.50 L1160.00,642.50 L1175.00,637.50 L1190.00,634.50 L1210.00,630.00 L1225.00,624.50 L1245.00,615.00 L1265.00,606.00 L1280.00,600.50 L1290.00,596.25 L1305.00,594.50 L1315.00,592.50 L1335.00,592.50 L1350.00,594.50 L1360.00,597.50 L1372.50,601.25 L1390.00,605.00 L1405.00,608.75 L1425.00,610.50 L1445.00,608.25 L1465.00,607.50 L1485.00,609.50 L1500.00,613.00 L1515.00,616.25 L1530.00,619.50 L1555.00,619.50 L1570.00,618.25 L1590.00,618.25 L1610.00,616.25 L1630.00,614.50 L1650.00,612.00 L1666.00,611.25" fill="none" stroke="#ff0000" stroke-width="1" shape-rendering="crispEdges" stroke-dasharray="3,3"/>
</g>
<g clip-path="url(#cr)">
<g shape-rendering="crispEdges">
<line x1="3" y1="722.5" x2="1687" y2="722.5" stroke="#c0c0c0" stroke-width="1" stroke-dasharray="3,3"/>
<line x1="3" y1="777.5" x2="1687" y2="777.5" stroke="#c0c0c0" stroke-width="1" stroke-dasharray="3,3"/>
</g>
<path d="M2.00,752.50 L10.00,752.50 L18.00,735.00 L26.00,730.50 L34.00,731.75 L42.00,723.75 L50.00,723.75 L58.00,730.00 L66.00,743.25 L74.00,736.75 L82.00,745.50 L90.00,746.75 L98.00,743.75 L106.00,736.25 L114.00,730.00 L122.00,728.25 L130.00,725.50 L138.00,729.25 L146.00,725.75 L154.00,730.75 L162.00,735.00 L170.00,733.25 L178.00,732.50 L186.00,735.75 L194.00,742.50 L202.00,750.50 L210.00,749.50 L218.00,757.50 L226.00,758.75 L234.00,745.50 L242.00,745.50 L250.00,743.75 L258.00,751.25 L266.00,755.00 L274.00,768.00 L282.00,770.50 L290.00,773.75 L298.00,772.50 L306.00,761.25 L314.00,761.25 L322.00,770.00 L330.00,772.50 L338.00,764.50 L346.00,765.50 L354.00,752.00 L362.00,744.50 L370.00,748.75 L378.00,754.50 L386.00,746.25 L394.00,742.50 L402.00,747.00 L410.00,725.75 L418.00,727.00 L426.00,727.00 L434.00,726.25 L442.00,722.50 L450.00,719.25 L458.00,718.00 L466.00,716.25 L474.00,715.00 L482.00,711.25 L490.00,709.25 L498.00,718.75 L506.00,727.50 L514.00,739.50 L522.00,744.25 L530.00,743.25 L538.00,737.50 L546.00,747.00 L554.00,738.25 L562.00,746.25 L570.00,753.00 L578.00,754.25 L586.00,757.50 L594.00,758.75 L602.00,750.50 L610.00,751.75 L618.00,748.75 L626.00,746.25 L634.00,743.75 L642.00,745.50 L650.00,742.50 L658.00,737.50 L666.00,733.25 L674.00,736.25 L682.00,737.50 L690.00,740.50 L698.00,738.75 L706.00,738.75 L714.00,743.75 L722.00,742.50 L730.00,738.25 L738.00,734.50 L746.00,733.00 L754.00,745.50 L762.00,756.25 L770.00,748.00 L778.00,750.00 L786.00,755.00 L794.00,753.75 L802.00,759.50 L810.00,758.25 L818.00,757.50 L826.00,753.75 L834.00,756.25 L842.00,748.75 L850.00,760.00 L858.00,762.00 L866.00,754.50 L874.00,755.50 L882.00,761.25 L890.00,763.25 L898.00,760.50 L906.00,778.75 L914.00,790.00 L922.00,790.50 L930.00,786.75 L938.00,786.75 L946.00,787.50 L954.00,776.25 L962.00,765.00 L970.00,764.50 L978.00,768.25 L986.00,766.75 L994.00,770.00 L1002.00,757.50 L1010.00,758.75 L1018.00,760.50 L1026.00,760.50 L1034.00,763.25 L1042.00,764.50 L1050.00,777.00 L1058.00,780.75 L1066.00,787.00 L1074.00,786.75 L1082.00,783.00 L1090.00,770.50 L1098.00,767.00 L1106.00,748.75 L1114.00,747.50 L1122.00,749.50 L1130.00,753.25 L1138.00,751.25 L1146.00,760.00 L1154.00,770.00 L1162.00,765.00 L1170.00,761.25 L1178.00,757.50 L1186.00,752.00 L1194.00,748.25 L1202.00,740.50 L1210.00,742.50 L1218.00,742.50 L1226.00,743.75 L1234.00,752.50 L1242.00,749.50 L1250.00,738.75 L1258.00,740.50 L1266.00,737.00 L1274.00,733.25 L1282.00,737.00 L1290.00,739.25 L1298.00,752.50 L1306.00,750.50 L1314.00,752.50 L1322.00,752.50 L1330.00,747.50 L1338.00,750.50 L1346.00,751.75 L1354.00,749.50 L1362.00,764.50 L1370.00,760.50 L1378.00,762.50 L1386.00,748.25 L1394.00,760.50 L1402.00,755.00 L1410.00,741.25 L1418.00,741.25 L1426.00,741.25 L1434.00,745.00 L1442.00,747.00 L1450.00,758.00 L1458.00,762.00 L1466.00,765.75 L1474.00,763.75 L1482.00,759.50 L1490.00,753.75 L1498.00,756.75 L1506.00,752.00 L1514.00,757.50 L1522.00,758.75 L1530.00,754.50 L1538.00,754.50 L1546.00,749.50 L1554.00,766.25 L1562.00,751.75 L1570.00,751.75 L1578.00,750.50 L1586.00,755.00 L1594.00,752.50 L1602.00,751.75 L1610.00,748.25 L1618.00,749.25 L1626.00,749.50 L1634.00,754.50 L1642.00,751.25 L1650.00,753.25 L1658.00,754.50 L1666.00,754.50" fill="none" stroke="#1e90ff" stroke-width="1" shape-rendering="crispEdges" />
</g>
<g font-size="9" fill="#000">
<path d="M5,11 L12,11 L8.5,15 Z" fill="#000"/>
<text transform="translate(17.30,16.00) scale(0.88,1)" font-size="10.0" letter-spacing="0.31" text-rendering="geometricPrecision" stroke-width="0.15" stroke="#000">USOil-,H4</text>
<text transform="translate(66.20,16.00) scale(0.88,1)" font-size="10.0" letter-spacing="0.31" text-rendering="geometricPrecision" stroke-width="0.15" stroke="#000">59.310 59.350 59.260 59.350</text>
<text transform="translate(6.00,536.00) scale(0.88,1)" font-size="10.0" letter-spacing="0.31" text-rendering="geometricPrecision" stroke-width="0.15" stroke="#000">MACD(12,26,9) -0.1076 -0.1128</text>
<text transform="translate(6.00,692.00) scale(0.88,1)" font-size="10.0" letter-spacing="0.31" text-rendering="geometricPrecision" stroke-width="0.15" stroke="#000">RSI(14) 47.0899</text>
<g shape-rendering="crispEdges">
<rect x="1688" y="23" width="2" height="1" fill="#000"/>
<rect x="1688" y="56" width="2" height="1" fill="#000"/>
<rect x="1688" y="89" width="2" height="1" fill="#000"/>
<rect x="1688" y="123" width="2" height="1" fill="#000"/>
<rect x="1688" y="155" width="2" height="1" fill="#000"/>
<rect x="1688" y="189" width="2" height="1" fill="#000"/>
<rect x="1688" y="222" width="2" height="1" fill="#000"/>
<rect x="1688" y="255" width="2" height="1" fill="#000"/>
<rect x="1688" y="288" width="2" height="1" fill="#000"/>
<rect x="1688" y="320" width="2" height="1" fill="#000"/>
<rect x="1688" y="354" width="2" height="1" fill="#000"/>
<rect x="1688" y="387" width="2" height="1" fill="#000"/>
<rect x="1688" y="420" width="2" height="1" fill="#000"/>
<rect x="1688" y="453" width="2" height="1" fill="#000"/>
<rect x="1688" y="486" width="2" height="1" fill="#000"/>
<rect x="1688" y="519" width="2" height="1" fill="#000"/>
</g>
<text transform="translate(1692.50,27.00) scale(0.88,1)" font-size="10.0" letter-spacing="0.31" text-rendering="geometricPrecision" stroke-width="0.15" stroke="#000">68.000</text>
<text transform="translate(1692.50,60.00) scale(0.88,1)" font-size="10.0" letter-spacing="0.31" text-rendering="geometricPrecision" stroke-width="0.15" stroke="#000">67.350</text>
<text transform="translate(1692.50,93.00) scale(0.88,1)" font-size="10.0" letter-spacing="0.31" text-rendering="geometricPrecision" stroke-width="0.15" stroke="#000">66.630</text>
<text transform="translate(1692.50,127.00) scale(0.88,1)" font-size="10.0" letter-spacing="0.31" text-rendering="geometricPrecision" stroke-width="0.15" stroke="#000">65.890</text>
<text transform="translate(1692.50,159.00) scale(0.88,1)" font-size="10.0" letter-spacing="0.31" text-rendering="geometricPrecision" stroke-width="0.15" stroke="#000">65.150</text>
<text transform="translate(1692.50,193.00) scale(0.88,1)" font-size="10.0" letter-spacing="0.31" text-rendering="geometricPrecision" stroke-width="0.15" stroke="#000">64.410</text>
<text transform="translate(1692.50,226.00) scale(0.88,1)" font-size="10.0" letter-spacing="0.31" text-rendering="geometricPrecision" stroke-width="0.15" stroke="#000">63.670</text>
<text transform="translate(1692.50,259.00) scale(0.88,1)" font-size="10.0" letter-spacing="0.31" text-rendering="geometricPrecision" stroke-width="0.15" stroke="#000">62.930</text>
<text transform="translate(1692.50,292.00) scale(0.88,1)" font-size="10.0" letter-spacing="0.31" text-rendering="geometricPrecision" stroke-width="0.15" stroke="#000">62.190</text>
<text transform="translate(1692.50,324.00) scale(0.88,1)" font-size="10.0" letter-spacing="0.31" text-rendering="geometricPrecision" stroke-width="0.15" stroke="#000">61.450</text>
<text transform="translate(1692.50,358.00) scale(0.88,1)" font-size="10.0" letter-spacing="0.31" text-rendering="geometricPrecision" stroke-width="0.15" stroke="#000">60.710</text>
<text transform="translate(1692.50,391.00) scale(0.88,1)" font-size="10.0" letter-spacing="0.31" text-rendering="geometricPrecision" stroke-width="0.15" stroke="#000">59.970</text>
<text transform="translate(1692.50,424.00) scale(0.88,1)" font-size="10.0" letter-spacing="0.31" text-rendering="geometricPrecision" stroke-width="0.15" stroke="#000">59.230</text>
<text transform="translate(1692.50,457.00) scale(0.88,1)" font-size="10.0" letter-spacing="0.31" text-rendering="geometricPrecision" stroke-width="0.15" stroke="#000">58.510</text>
<text transform="translate(1692.50,490.00) scale(0.88,1)" font-size="10.0" letter-spacing="0.31" text-rendering="geometricPrecision" stroke-width="0.15" stroke="#000">57.770</text>
<text transform="translate(1692.50,523.00) scale(0.88,1)" font-size="10.0" letter-spacing="0.31" text-rendering="geometricPrecision" stroke-width="0.15" stroke="#000">57.030</text>
<rect x="1689" y="21.0" width="33" height="11" fill="#ff0000" shape-rendering="crispEdges"/>
<text transform="translate(1692.50,30.00) scale(0.88,1)" font-size="10.0" letter-spacing="0.31" text-rendering="geometricPrecision" stroke-width="0.15" fill="#fff" stroke="#fff">68.000</text>
<rect x="1689" y="156.0" width="33" height="11" fill="#ff0000" shape-rendering="crispEdges"/>
<text transform="translate(1692.50,165.00) scale(0.88,1)" font-size="10.0" letter-spacing="0.31" text-rendering="geometricPrecision" stroke-width="0.15" fill="#fff" stroke="#fff">65.000</text>
<rect x="1689" y="290.0" width="33" height="11" fill="#ff0000" shape-rendering="crispEdges"/>
<text transform="translate(1692.50,299.00) scale(0.88,1)" font-size="10.0" letter-spacing="0.31" text-rendering="geometricPrecision" stroke-width="0.15" fill="#fff" stroke="#fff">62.000</text>
<rect x="1689" y="408.5" width="33" height="11" fill="#000000" shape-rendering="crispEdges"/>
<text transform="translate(1692.50,418.00) scale(0.88,1)" font-size="10.0" letter-spacing="0.31" text-rendering="geometricPrecision" stroke-width="0.15" fill="#fff" stroke="#fff">59.350</text>
<rect x="1689" y="424.0" width="33" height="11" fill="#32cd32" shape-rendering="crispEdges"/>
<text transform="translate(1692.50,433.00) scale(0.88,1)" font-size="10.0" letter-spacing="0.31" text-rendering="geometricPrecision" stroke-width="0.15" fill="#fff" stroke="#fff">59.000</text>
<rect x="1688" y="525" width="2" height="1" fill="#000" shape-rendering="crispEdges"/>
<text transform="translate(1692.30,534.00) scale(0.88,1)" font-size="10.0" letter-spacing="0.31" text-rendering="geometricPrecision" stroke-width="0.15" stroke="#000">1.6446</text>
<rect x="1688" y="605" width="2" height="1" fill="#000" shape-rendering="crispEdges"/>
<text transform="translate(1692.30,609.00) scale(0.88,1)" font-size="10.0" letter-spacing="0.31" text-rendering="geometricPrecision" stroke-width="0.15" stroke="#000">0.00</text>
<rect x="1688" y="676" width="2" height="1" fill="#000" shape-rendering="crispEdges"/>
<text transform="translate(1692.30,674.00) scale(0.88,1)" font-size="10.0" letter-spacing="0.31" text-rendering="geometricPrecision" stroke-width="0.15" stroke="#000">-1.4594</text>
<rect x="1688" y="681" width="2" height="1" fill="#000" shape-rendering="crispEdges"/>
<text transform="translate(1692.30,690.00) scale(0.88,1)" font-size="10.0" letter-spacing="0.31" text-rendering="geometricPrecision" stroke-width="0.15" stroke="#000">100</text>
<text transform="translate(1692.30,726.00) scale(0.88,1)" font-size="10.0" letter-spacing="0.31" text-rendering="geometricPrecision" stroke-width="0.15" stroke="#000">70</text>
<text transform="translate(1692.30,781.00) scale(0.88,1)" font-size="10.0" letter-spacing="0.31" text-rendering="geometricPrecision" stroke-width="0.15" stroke="#000">30</text>
<rect x="1688" y="818" width="2" height="1" fill="#000" shape-rendering="crispEdges"/>
<text transform="translate(1692.30,816.00) scale(0.88,1)" font-size="10.0" letter-spacing="0.31" text-rendering="geometricPrecision" stroke-width="0.15" stroke="#000">0</text>
<g shape-rendering="crispEdges">
<rect x="2" y="820" width="1" height="3" fill="#000"/>
<rect x="66" y="820" width="1" height="3" fill="#000"/>
<rect x="130" y="820" width="1" height="3" fill="#000"/>
<rect x="194" y="820" width="1" height="3" fill="#000"/>
<rect x="258" y="820" width="1" height="3" fill="#000"/>
<rect x="322" y="820" width="1" height="3" fill="#000"/>
<rect x="386" y="820" width="1" height="3" fill="#000"/>
<rect x="450" y="820" width="1" height="3" fill="#000"/>
<rect x="514" y="820" width="1" height="3" fill="#000"/>
<rect x="578" y="820" width="1" height="3" fill="#000"/>
<rect x="642" y="820" width="1" height="3" fill="#000"/>
<rect x="706" y="820" width="1" height="3" fill="#000"/>
<rect x="770" y="820" width="1" height="3" fill="#000"/>
<rect x="834" y="820" width="1" height="3" fill="#000"/>
<rect x="898" y="820" width="1" height="3" fill="#000"/>
<rect x="962" y="820" width="1" height="3" fill="#000"/>
<rect x="1026" y="820" width="1" height="3" fill="#000"/>
<rect x="1090" y="820" width="1" height="3" fill="#000"/>
<rect x="1154" y="820" width="1" height="3" fill="#000"/>
<rect x="1218" y="820" width="1" height="3" fill="#000"/>
<rect x="1282" y="820" width="1" height="3" fill="#000"/>
<rect x="1346" y="820" width="1" height="3" fill="#000"/>
<rect x="1410" y="820" width="1" height="3" fill="#000"/>
<rect x="1474" y="820" width="1" height="3" fill="#000"/>
<rect x="1538" y="820" width="1" height="3" fill="#000"/>
<rect x="1602" y="820" width="1" height="3" fill="#000"/>
<rect x="1666" y="820" width="1" height="3" fill="#000"/>
</g>
<text transform="translate(1.20,832.00) scale(0.88,1)" font-size="10.0" letter-spacing="0.31" text-rendering="geometricPrecision" stroke-width="0.15" stroke="#000">22 Feb 2021</text>
<text transform="translate(65.20,832.00) scale(0.88,1)" font-size="10.0" letter-spacing="0.31" text-rendering="geometricPrecision" stroke-width="0.15" stroke="#000">23 Feb 12:00</text>
<text transform="translate(129.20,832.00) scale(0.88,1)" font-size="10.0" letter-spacing="0.31" text-rendering="geometricPrecision" stroke-width="0.15" stroke="#000">24 Feb 20:00</text>
<text transform="translate(193.20,832.00) scale(0.88,1)" font-size="10.0" letter-spacing="0.31" text-rendering="geometricPrecision" stroke-width="0.15" stroke="#000">26 Feb 04:00</text>
<text transform="translate(257.20,832.00) scale(0.88,1)" font-size="10.0" letter-spacing="0.31" text-rendering="geometricPrecision" stroke-width="0.15" stroke="#000">1 Mar 08:00</text>
<text transform="translate(321.20,832.00) scale(0.88,1)" font-size="10.0" letter-spacing="0.31" text-rendering="geometricPrecision" stroke-width="0.15" stroke="#000">2 Mar 16:00</text>
<text transform="translate(385.20,832.00) scale(0.88,1)" font-size="10.0" letter-spacing="0.31" text-rendering="geometricPrecision" stroke-width="0.15" stroke="#000">4 Mar 00:00</text>
<text transform="translate(449.20,832.00) scale(0.88,1)" font-size="10.0" letter-spacing="0.31" text-rendering="geometricPrecision" stroke-width="0.15" stroke="#000">5 Mar 08:00</text>
<text transform="translate(513.20,832.00) scale(0.88,1)" font-size="10.0" letter-spacing="0.31" text-rendering="geometricPrecision" stroke-width="0.15" stroke="#000">8 Mar 12:00</text>
<text transform="translate(577.20,832.00) scale(0.88,1)" font-size="10.0" letter-spacing="0.31" text-rendering="geometricPrecision" stroke-width="0.15" stroke="#000">9 Mar 20:00</text>
<text transform="translate(641.20,832.00) scale(0.88,1)" font-size="10.0" letter-spacing="0.31" text-rendering="geometricPrecision" stroke-width="0.15" stroke="#000">11 Mar 04:00</text>
<text transform="translate(705.20,832.00) scale(0.88,1)" font-size="10.0" letter-spacing="0.31" text-rendering="geometricPrecision" stroke-width="0.15" stroke="#000">12 Mar 12:00</text>
<text transform="translate(769.20,832.00) scale(0.88,1)" font-size="10.0" letter-spacing="0.31" text-rendering="geometricPrecision" stroke-width="0.15" stroke="#000">15 Mar 16:00</text>
<text transform="translate(833.20,832.00) scale(0.88,1)" font-size="10.0" letter-spacing="0.31" text-rendering="geometricPrecision" stroke-width="0.15" stroke="#000">17 Mar 00:00</text>
<text transform="translate(897.20,832.00) scale(0.88,1)" font-size="10.0" letter-spacing="0.31" text-rendering="geometricPrecision" stroke-width="0.15" stroke="#000">18 Mar 08:00</text>
<text transform="translate(961.20,832.00) scale(0.88,1)" font-size="10.0" letter-spacing="0.31" text-rendering="geometricPrecision" stroke-width="0.15" stroke="#000">19 Mar 16:00</text>
<text transform="translate(1025.20,832.00) scale(0.88,1)" font-size="10.0" letter-spacing="0.31" text-rendering="geometricPrecision" stroke-width="0.15" stroke="#000">22 Mar 20:00</text>
<text transform="translate(1089.20,832.00) scale(0.88,1)" font-size="10.0" letter-spacing="0.31" text-rendering="geometricPrecision" stroke-width="0.15" stroke="#000">24 Mar 04:00</text>
<text transform="translate(1153.20,832.00) scale(0.88,1)" font-size="10.0" letter-spacing="0.31" text-rendering="geometricPrecision" stroke-width="0.15" stroke="#000">25 Mar 12:00</text>
<text transform="translate(1217.20,832.00) scale(0.88,1)" font-size="10.0" letter-spacing="0.31" text-rendering="geometricPrecision" stroke-width="0.15" stroke="#000">26 Mar 20:00</text>
<text transform="translate(1281.20,832.00) scale(0.88,1)" font-size="10.0" letter-spacing="0.31" text-rendering="geometricPrecision" stroke-width="0.15" stroke="#000">30 Mar 00:00</text>
<text transform="translate(1345.20,832.00) scale(0.88,1)" font-size="10.0" letter-spacing="0.31" text-rendering="geometricPrecision" stroke-width="0.15" stroke="#000">31 Mar 08:00</text>
<text transform="translate(1409.20,832.00) scale(0.88,1)" font-size="10.0" letter-spacing="0.31" text-rendering="geometricPrecision" stroke-width="0.15" stroke="#000">1 Apr 16:00</text>
<text transform="translate(1473.20,832.00) scale(0.88,1)" font-size="10.0" letter-spacing="0.31" text-rendering="geometricPrecision" stroke-width="0.15" stroke="#000">5 Apr 20:00</text>
<text transform="translate(1537.20,832.00) scale(0.88,1)" font-size="10.0" letter-spacing="0.31" text-rendering="geometricPrecision" stroke-width="0.15" stroke="#000">7 Apr 04:00</text>
<text transform="translate(1601.20,832.00) scale(0.88,1)" font-size="10.0" letter-spacing="0.31" text-rendering="geometricPrecision" stroke-width="0.15" stroke="#000">8 Apr 12:00</text>
<text transform="translate(1665.20,832.00) scale(0.88,1)" font-size="10.0" letter-spacing="0.31" text-rendering="geometricPrecision" stroke-width="0.15" stroke="#000">9 Apr 20:00</text>
</g>
<g fill="none" stroke="#e8141c" stroke-width="2.7" stroke-linejoin="round">
<path d="M1352,210.7 Q1345,217 1337.1,221.1"/>
<path d="M1346.6,214.9 L1364.8,214.9 Q1354,225 1335.9,229.1"/>
<path d="M1346,219.6 L1350.2,223.8"/>
<path d="M1357.3,224.4 Q1348,232 1338.3,235.7"/>
<path d="M1351.4,228.5 L1366.8,228.5 Q1356,240 1337.1,243.7"/>
<path d="M1349.6,234.5 L1353.2,238"/>
<path d="M1387,210.7 L1389.1,214.3"/>
<path d="M1373.4,221.4 L1373.4,216 L1402.5,216 L1402.5,221.4"/>
<path d="M1384.1,220.2 Q1378,225 1371.6,228.5"/>
<path d="M1391.8,220.2 Q1398,224 1404.3,228.5"/>
<path d="M1375.8,229.7 L1400.4,229.7"/>
<path d="M1388,230.9 L1388,241"/>
<path d="M1372.2,241.6 L1404,241.6"/>
<path d="M1407.2,216.9 L1421.7,216.9"/>
<path d="M1414.6,210.7 L1407.8,228.5 L1421.7,228.5"/>
<path d="M1415.8,220.5 L1415.8,244.6"/>
<path d="M1406.9,236.8 L1422,234.5"/>
<path d="M1423.2,216.9 L1439.9,216.9"/>
<path d="M1421.7,224.1 L1441,224.1"/>
<path d="M1431,210.7 L1425,231.5 L1439.3,231.5 L1431.5,238.6"/>
<path d="M1424.4,235.7 L1436.3,243.7"/>
<path d="M1443.1,218.7 L1454.7,218.7"/>
<path d="M1449.1,210.7 L1449.7,240.5 Q1449.7,242.8 1444,242.3"/>
<path d="M1442.8,230.3 L1454.1,227"/>
<path d="M1475.5,212.8 L1458.3,214 L1458.3,230.9 Q1457.5,239 1453.5,244"/>
<path d="M1458.9,225.3 L1477.3,225.3"/>
<path d="M1469.3,225.6 L1469.6,244.6"/>
<path d="M1495.5,210.1 L1495.5,221.4"/>
<path d="M1495.5,215.6 L1512.7,215.6"/>
<path d="M1484.5,234.5 L1484.5,222.5 L1508,222.5 L1508,234.5"/>
<path d="M1484.5,231.8 L1508,231.8"/>
<path d="M1484.2,236.8 L1480,243.4"/>
<path d="M1490.8,236 L1492.8,243.1"/>
<path d="M1498.8,235.7 L1501.7,242.8"/>
<path d="M1507.7,236.3 L1511.6,243.7"/>
</g>
<text transform="translate(1516.3,240.5) scale(0.83,1)" font-size="40" letter-spacing="1.6" fill="#e8141c">59</text>
</svg></body></html>
